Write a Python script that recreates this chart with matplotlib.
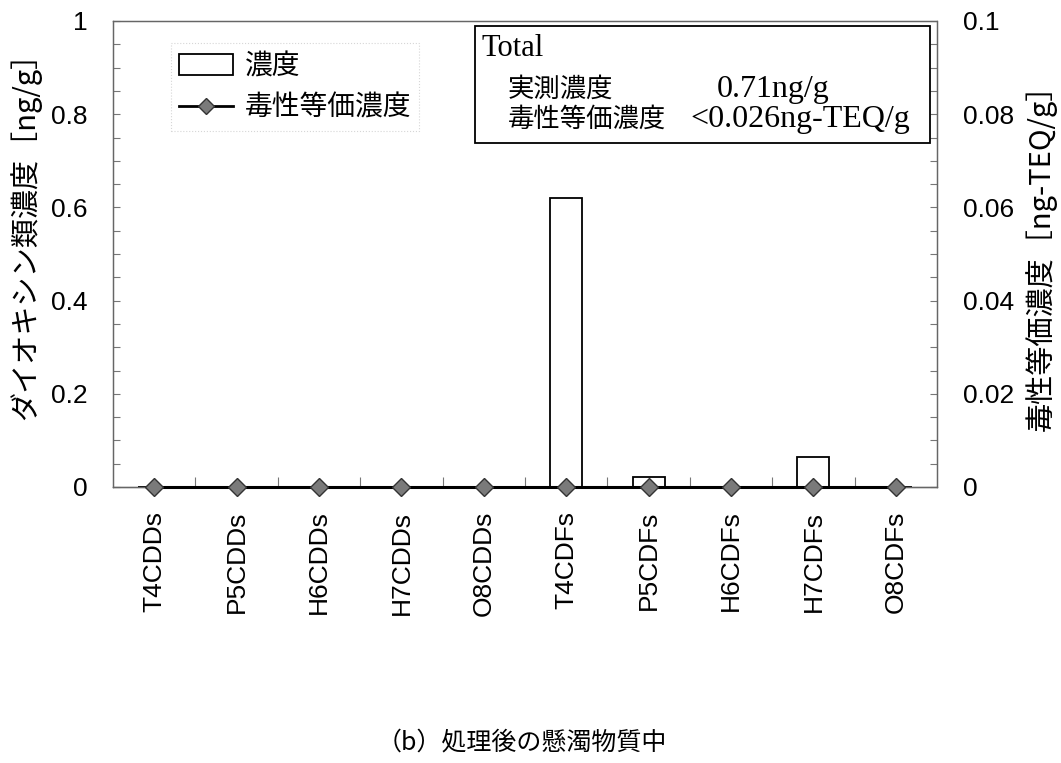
import numpy as np
import matplotlib
matplotlib.use('Agg')
import matplotlib.pyplot as plt
from matplotlib.lines import Line2D
from matplotlib.patches import Patch, Rectangle
from matplotlib.ticker import MultipleLocator, FixedLocator, FuncFormatter

plt.rcParams['font.family'] = ['Liberation Sans', 'Noto Sans CJK JP', 'DejaVu Sans']

# congeners and measured values
congeners = ['T4CDDs', 'P5CDDs', 'H6CDDs', 'H7CDDs', 'O8CDDs',
             'T4CDFs', 'P5CDFs', 'H6CDFs', 'H7CDFs', 'O8CDFs']
conc = [0, 0, 0, 0, 0, 0.62, 0.022, 0, 0.064, 0]      # ng/g
teq = [0, 0, 0, 0, 0, 0, 0, 0, 0, 0]                  # ng-TEQ/g

total_conc = '0.71ng/g'
total_teq = '<0.026ng-TEQ/g'

jp = 'Noto Sans CJK JP'
serif = 'Liberation Serif'

fig = plt.figure(figsize=(10.61, 7.63), dpi=100)
ax = fig.add_axes([113/1061, 1 - 487/763, 824/1061, 466/763])
ax2 = ax.twinx()

x = np.arange(len(congeners))
ax.bar(x, conc, width=0.39, facecolor='white', edgecolor='black', linewidth=1.3, zorder=2)
ax2.plot(x, teq, color='black', lw=2.2, marker='D', markersize=9,
         markerfacecolor='#7a7a7a', markeredgecolor='#333333', markeredgewidth=1.0,
         clip_on=False, zorder=3)

ax.set_xlim(-0.5, len(congeners) - 0.5)
ax.set_ylim(0, 1)
ax2.set_ylim(0, 0.1)

# axes frame
for a in (ax, ax2):
    for s in a.spines.values():
        s.set_color('#666666')
        s.set_linewidth(0.9)
        s.set_linestyle((0, (2, 1)))
ax.spines['bottom'].set_color('black')
ax.spines['bottom'].set_linestyle('-')

fmt = FuncFormatter(lambda v, pos: '%g' % round(v, 4))

ax.set_xticks(x)
ax.set_xticklabels(congeners, rotation=90, fontsize=19)
ax.xaxis.set_minor_locator(FixedLocator(x[:-1] + 0.5))
ax.tick_params(axis='x', which='major', length=0, pad=17)
ax.tick_params(axis='x', which='minor', direction='in', length=7, width=0.8, color='#777777')

ax.yaxis.set_major_locator(MultipleLocator(0.2))
ax.yaxis.set_minor_locator(MultipleLocator(0.05))
ax.yaxis.set_major_formatter(fmt)
ax.tick_params(axis='y', which='both', direction='in', length=5, width=0.8,
               color='#777777', labelsize=19, pad=18)

ax2.yaxis.set_major_locator(MultipleLocator(0.02))
ax2.yaxis.set_minor_locator(MultipleLocator(0.005))
ax2.yaxis.set_major_formatter(fmt)
ax2.tick_params(axis='y', which='both', direction='in', length=5, width=0.8,
                color='#777777', labelsize=19, pad=19)

fig.text(25/1061, 1 - 229/763, 'ダイオキシン類濃度［ng/g］', rotation=90,
         ha='center', va='center', fontsize=21, family=[jp])
fig.text(1041/1061, 1 - 250/763, '毒性等価濃度［ng-TEQ/g］', rotation=90,
         ha='center', va='center', fontsize=21, family=[jp])

# legend
handles = [Patch(facecolor='white', edgecolor='black', linewidth=1.3),
           Line2D([], [], color='black', lw=2, marker='D', markersize=8,
                  markerfacecolor='#7a7a7a', markeredgecolor='#333333')]
leg = fig.legend(handles, ['濃度', '毒性等価濃度'], loc='upper left',
                 bbox_to_anchor=(157/1061, 1 - 29/763),
                 prop={'family': jp, 'size': 20}, handlelength=1.95,
                 handleheight=0.8, handletextpad=0.4, labelspacing=0.42,
                 borderpad=0.3, fancybox=False)
leg.get_frame().set_edgecolor('#cccccc')
leg.get_frame().set_linestyle(':')
leg.get_frame().set_linewidth(0.8)

# totals box
fig.patches.append(Rectangle((475/1061, 1 - 143/763), 455/1061, 117/763,
                             transform=fig.transFigure, facecolor='white',
                             edgecolor='black', linewidth=1.3, zorder=5))
fig.text(481/1061, 1 - 48/763, 'Total', ha='left', va='center', fontsize=22,
         family=[serif], zorder=6)
fig.text(508/1061, 1 - 89/763, '実測濃度', ha='left', va='center', fontsize=19,
         family=[jp], zorder=6)
fig.text(717/1061, 1 - 89/763, total_conc, ha='left', va='center', fontsize=23,
         family=[serif], zorder=6)
fig.text(508/1061, 1 - 119/763, '毒性等価濃度', ha='left', va='center', fontsize=19,
         family=[jp], zorder=6)
fig.text(690/1061, 1 - 119/763, total_teq, ha='left', va='center', fontsize=23,
         family=[serif], zorder=6)

fig.text(522/1061, 1 - 742/763, '（b）処理後の懸濁物質中', ha='center', va='center',
         fontsize=18, family=[jp])

fig.savefig('out.png', dpi=100)
